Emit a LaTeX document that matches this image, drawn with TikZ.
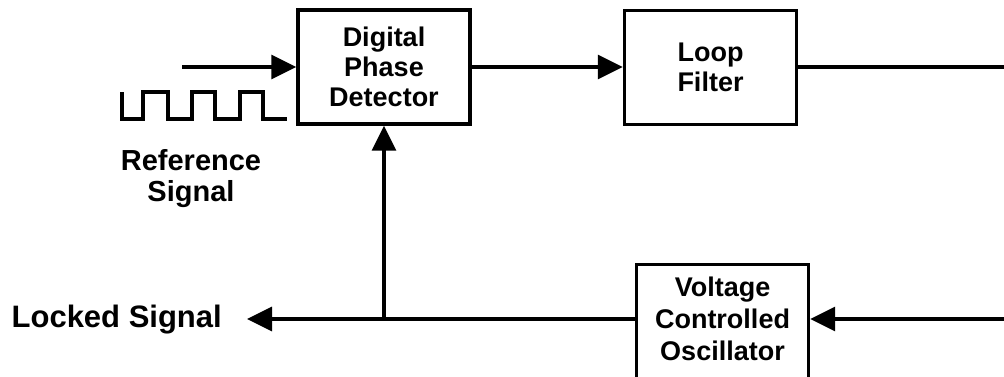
\documentclass[tikz,border=0pt]{standalone}
\usepackage{fontspec}
\setmainfont{Liberation Sans}
\usetikzlibrary{arrows.meta}
\begin{document}
\begin{tikzpicture}[x=1pt,y=-1pt,
  wire/.style={line width=3.2pt},
  flow/.style={wire,-{Triangle[length=25pt,width=24pt]}},
  block/.style={draw,line width=3.4pt,minimum width=172pt,minimum height=114pt,
    inner sep=0pt,align=center,font=\fontsize{27}{30}\selectfont\bfseries},
  blocktext/.style={inner sep=0pt,align=center,font=\fontsize{27}{32}\selectfont\bfseries},
  sigtext/.style={inner sep=0pt,align=center,font=\fontsize{29}{31}\selectfont\bfseries}]
\useasboundingbox (0,0) rectangle (1004,376);
\clip (0,0) rectangle (1004,376);

% blocks
\node[block] (dpd) at (384,67) {Digital\\Phase\\Detector};
\node[block] (lf) at (710.5,67.5) {Loop\\Filter};
\node[block,minimum height=130pt,anchor=north] (vco) at (722.5,263) {};
\node[blocktext] (vcot) at (722.5,319) {Voltage\\Controlled\\Oscillator};

% signal labels
\node[sigtext] (ref) at (191,179) {Reference\\Signal};
\node[sigtext,anchor=east,font=\fontsize{31}{33}\selectfont\bfseries] (lock) at (222,320) {Locked Signal};

% free ends of the connectors
\coordinate (in) at (182,67);
\coordinate (r1) at (1010,67);
\coordinate (r2) at (1010,319);
\coordinate (lockend) at (247,319);

% reference square wave
\draw[wire,line join=miter] (122,92) -- (122,119) -- (143,119) -- (143,92) -- (168,92)
  -- (168,119) -- (192,119) -- (192,92) -- (215,92) -- (215,119) -- (240,119)
  -- (240,92) -- (263,92) -- (263,119) -- (287,119);

% connectors
\draw[flow] (in) -- (dpd.west |- in);
\draw[flow] (dpd.east |- in) -- (lf.west |- in);
\draw[wire] (lf.east |- r1) -- (r1);
\draw[flow] (r2) -- (vcot -| vco.east);
\draw[flow] (vcot -| vco.west) -- (lockend);
\coordinate (j) at (dpd.south |- lockend);
\draw[flow] (j) -- (dpd.south);
\end{tikzpicture}
\end{document}
